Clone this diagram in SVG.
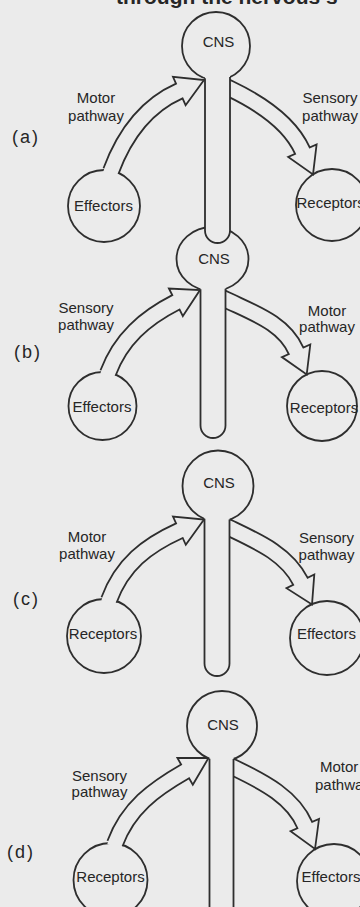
<svg xmlns="http://www.w3.org/2000/svg" width="360" height="907" viewBox="0 0 360 907">
<style>
.bgc{fill:#ebebeb}
.nd{fill:#ebebeb;stroke:#2e2e2e;stroke-width:1.8}
.so{fill:none;stroke:#2e2e2e;stroke-width:17.8}
.si{fill:none;stroke:#ebebeb;stroke-width:14.2}
.hd{fill:#ebebeb;stroke:#2e2e2e;stroke-width:1.8;stroke-linejoin:miter}
.sf{fill:#ebebeb;stroke:none}
.sl{fill:none;stroke:#2e2e2e;stroke-width:1.8}
text{font-family:"Liberation Sans",Arial,sans-serif;fill:#262626;font-size:15px}
.c{text-anchor:middle}
.pl{font-size:18px;letter-spacing:2px}
.hdr{font-size:21px;font-weight:bold}
</style>
<rect class="bgc" x="0" y="0" width="360" height="907"/>
<text class="hdr" x="116" y="3.5">through the nervous s</text>

<g id="effectors-a"><circle class="nd" cx="104" cy="206" r="36"/><text class="c" x="103.5" y="211">Effectors</text></g>
<g id="receptors-a"><circle class="nd" cx="332" cy="205" r="36"/><text x="296.5" y="208">Receptors</text></g>
<g id="effectors-b"><circle class="nd" cx="102.5" cy="406" r="34"/><text class="c" x="102" y="412">Effectors</text></g>
<g id="receptors-b"><circle class="nd" cx="322" cy="406" r="35"/><text class="c" x="324" y="412.5">Receptors</text></g>
<g id="receptors-c"><circle class="nd" cx="104" cy="636" r="37"/><text class="c" x="103" y="638.5">Receptors</text></g>
<g id="effectors-c"><circle class="nd" cx="327" cy="638" r="37"/><text class="c" x="326.5" y="638.5">Effectors</text></g>
<g id="receptors-d"><circle class="nd" cx="110.5" cy="880" r="37"/><text class="c" x="110.5" y="882">Receptors</text></g>
<g id="effectors-d"><circle class="nd" cx="334" cy="881" r="37"/><text x="301.5" y="882">Effectors</text></g>

<g id="connectors">
<path class="so" d="M111,171 C124.3,135.3 146.4,105.6 179.3,91"/>
<polygon class="hd" points="185.6,105.2 204,80 173,76.8"/>
<path class="si" d="M110,173.8 L111,171 C124.3,135.3 146.4,105.6 179.3,91 L182,89.8"/>

<path class="so" d="M226,86.8 L230,88.7 C261.5,103.8 290.2,123.3 302.4,150.7"/>
<polygon class="hd" points="316.6,144.4 313,174.5 288.2,157"/>
<path class="si" d="M226,86.8 L230,88.7 C261.5,103.8 290.2,123.3 302.4,150.7 L303.6,153.4"/>

<path class="so" d="M108,373 C120.6,339.2 144.7,318.2 175.9,302.3"/>
<polygon class="hd" points="182.9,316.1 200,290 168.9,288.5"/>
<path class="si" d="M107,375.8 L108,373 C120.6,339.2 144.7,318.2 175.9,302.3 L178.6,300.9"/>

<path class="so" d="M221.5,297.6 L225.5,299.5 C255.2,313.7 283.8,323.4 296.1,350.8"/>
<polygon class="hd" points="310.3,344.5 306.7,374.5 281.9,357.1"/>
<path class="si" d="M221.5,297.6 L225.5,299.5 C255.2,313.7 283.8,323.4 296.1,350.8 L297.3,353.5"/>

<path class="so" d="M109,600 C122.3,564.3 146.6,545.6 179.4,530.7"/>
<polygon class="hd" points="185.8,544.8 204,519.5 173,516.6"/>
<path class="si" d="M108,602.8 L109,600 C122.3,564.3 146.6,545.6 179.4,530.7 L182.1,529.5"/>

<path class="so" d="M225.5,526.1 L229.5,528 C259.2,542.2 287,554.5 300.4,581.3"/>
<polygon class="hd" points="314.3,574.4 312,604.5 286.5,588.2"/>
<path class="si" d="M225.5,526.1 L229.5,528 C259.2,542.2 287,554.5 300.4,581.3 L301.7,584"/>

<path class="so" d="M115,843.5 C128.3,807.8 153.9,789.3 185.1,771.4"/>
<polygon class="hd" points="192.8,784.8 208.5,758 177.4,758"/>
<path class="si" d="M114,846.3 L115,843.5 C128.3,807.8 153.9,789.3 185.1,771.4 L187.7,769.9"/>

<path class="so" d="M229.5,765.6 L233.5,767.5 C265,782.5 293,797.5 304.8,825.1"/>
<polygon class="hd" points="319,819 315,849 290.6,831.2"/>
<path class="si" d="M229.5,765.6 L233.5,767.5 C265,782.5 293,797.5 304.8,825.1 L306,827.9"/>

<text class="c" x="96" y="102.5">Motor</text>
<text class="c" x="96" y="120.5">pathway</text>
<text class="c" x="330" y="103">Sensory</text>
<text class="c" x="330" y="121">pathway</text>

<text class="c" x="86" y="313">Sensory</text>
<text class="c" x="86" y="330">pathway</text>
<text class="c" x="327" y="315.5">Motor</text>
<text class="c" x="327" y="331.5">pathway</text>

<text class="c" x="87" y="541.5">Motor</text>
<text class="c" x="87" y="558.5">pathway</text>
<text class="c" x="326.5" y="542.5">Sensory</text>
<text class="c" x="326.5" y="559.5">pathway</text>

<text class="c" x="99.5" y="781">Sensory</text>
<text class="c" x="99.5" y="797">pathway</text>
<text x="320" y="771.5">Motor</text>
<text x="315" y="789.5">pathway</text>
</g>

<g id="cns-b">
<ellipse class="nd" cx="212.5" cy="259" rx="36" ry="32"/>
<path class="sf" d="M200.5,282 V425.5 A12.5,12.5 0 0 0 225.5,425.5 V282 Z"/>
<path class="sl" d="M200.5,289.3 V425.5 A12.5,12.5 0 0 0 225.5,425.5 V288.7"/>
<text class="c" x="214" y="263.5">CNS</text>
</g>
<g id="cns-a">
<circle class="nd" cx="216" cy="46" r="34"/>
<path class="sf" d="M205,68 V230.5 A12.5,12.5 0 0 0 230,230.5 V68 Z"/>
<path class="sl" d="M205,78.2 V230.5 A12.5,12.5 0 0 0 230,230.5 V77"/>
<text class="c" x="218.5" y="47">CNS</text>
</g>
<g id="cns-c">
<circle class="nd" cx="218" cy="486" r="35.5"/>
<path class="sf" d="M204.5,512 V663.5 A12.5,12.5 0 0 0 229.5,663.5 V512 Z"/>
<path class="sl" d="M204.5,518.8 V663.5 A12.5,12.5 0 0 0 229.5,663.5 V519.6"/>
<text class="c" x="219" y="487.5">CNS</text>
</g>
<g id="cns-d">
<circle class="nd" cx="222" cy="726" r="35"/>
<rect class="sf" x="209.5" y="752" width="24" height="170"/>
<path class="sl" d="M209.5,758.7 V920 M233.5,759.1 V920"/>
<text class="c" x="223" y="730">CNS</text>
</g>

<g id="panel-labels">
<text class="pl" x="12" y="143">(a)</text>
<text class="pl" x="14" y="358">(b)</text>
<text class="pl" x="13" y="605">(c)</text>
<text class="pl" x="7" y="858">(d)</text>
</g>
</svg>
